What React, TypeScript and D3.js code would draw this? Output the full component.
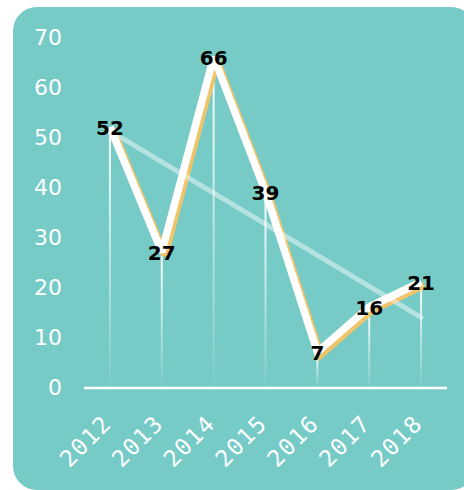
import { useEffect, useRef } from 'react';
import * as d3 from 'd3';

const years = ['2012', '2013', '2014', '2015', '2016', '2017', '2018'];
const values = [52, 27, 66, 39, 7, 16, 21];
const yTicks = [0, 10, 20, 30, 40, 50, 60, 70];

const W = 464;
const H = 490;

export default function App() {
  const svgRef = useRef<SVGSVGElement>(null);

  useEffect(() => {
    if (!svgRef.current) return;
    const svg = d3.select(svgRef.current);
    svg.selectAll('*').remove();

    const defs = svg.append('defs');
    const grad = defs.append('linearGradient')
      .attr('id', 'drop')
      .attr('x1', 0).attr('y1', 0).attr('x2', 0).attr('y2', 1);
    grad.append('stop').attr('offset', '0%').attr('stop-color', '#fff').attr('stop-opacity', 1);
    grad.append('stop').attr('offset', '100%').attr('stop-color', '#fff').attr('stop-opacity', 0.05);

    // card background
    svg.append('rect')
      .attr('x', 13).attr('y', 7)
      .attr('width', 462).attr('height', 483)
      .attr('rx', 24)
      .attr('fill', '#76cbc7');

    const x = d3.scaleBand<string>().domain(years).range([84, 447]);
    const y = d3.scaleLinear().domain([0, 70]).range([387, 37]);
    const cx = (d: string) => (x(d) ?? 0) + x.bandwidth() / 2;

    // y labels
    svg.append('g')
      .selectAll('text')
      .data(yTicks)
      .enter().append('text')
      .attr('x', 62)
      .attr('y', d => y(d))
      .attr('dy', '0.36em')
      .attr('text-anchor', 'end')
      .attr('fill', '#fff')
      .style('font-family', 'DejaVu Sans, sans-serif')
      .style('font-size', '22px')
      .text(d => d);

    // x axis line
    svg.append('line')
      .attr('x1', 84).attr('x2', 447)
      .attr('y1', y(0) + 1).attr('y2', y(0) + 1)
      .attr('stroke', '#fff')
      .attr('stroke-width', 2.5);

    // x labels
    svg.append('g')
      .selectAll('text')
      .data(years)
      .enter().append('text')
      .attr('transform', d => `translate(${cx(d) + 3},${y(0) + 38}) rotate(-45)`)
      .attr('text-anchor', 'end')
      .attr('fill', '#fff')
      .style('font-family', 'DejaVu Sans Mono, monospace')
      .style('font-size', '23px')
      .style('letter-spacing', '1.5px')
      .text(d => d);

    // drop lines
    svg.append('g')
      .selectAll('rect')
      .data(years)
      .enter().append('rect')
      .attr('x', d => cx(d) - 1)
      .attr('y', (d, i) => y(values[i]))
      .attr('width', 2)
      .attr('height', (d, i) => y(0) - y(values[i]))
      .attr('fill', 'url(#drop)');

    const pts: [number, number][] = years.map((d, i) => [cx(d), y(values[i])]);
    const line = d3.line();

    // gold shadow then white line
    svg.append('path')
      .attr('d', line(pts))
      .attr('transform', 'translate(3,3)')
      .attr('fill', 'none')
      .attr('stroke', '#efc46a')
      .attr('stroke-width', 7.5)
      .attr('stroke-linejoin', 'miter')
      .attr('stroke-miterlimit', 2);

    svg.append('path')
      .attr('d', line(pts))
      .attr('fill', 'none')
      .attr('stroke', '#fff')
      .attr('stroke-width', 7.5)
      .attr('stroke-linejoin', 'miter')
      .attr('stroke-miterlimit', 2);

    // linear trend
    const n = values.length;
    const mx = d3.mean(d3.range(n)) as number;
    const my = d3.mean(values) as number;
    const slope = d3.sum(values, (v, i) => (i - mx) * (v - my)) / d3.sum(d3.range(n), i => (i - mx) ** 2);
    const t0 = my - slope * mx;
    svg.append('line')
      .attr('x1', cx(years[0])).attr('y1', y(t0))
      .attr('x2', cx(years[n - 1])).attr('y2', y(t0 + slope * (n - 1)))
      .attr('stroke', '#fff')
      .attr('stroke-opacity', 0.45)
      .attr('stroke-width', 5)
      .attr('stroke-linecap', 'round');

    // value labels
    svg.append('g')
      .selectAll('text')
      .data(values)
      .enter().append('text')
      .attr('x', (d, i) => cx(years[i]))
      .attr('y', d => y(d) + 1)
      .attr('dy', '0.36em')
      .attr('text-anchor', 'middle')
      .attr('fill', '#000')
      .style('font-family', 'DejaVu Sans, sans-serif')
      .style('font-weight', 'bold')
      .style('font-size', '20px')
      .text(d => d);
  }, []);

  return (
    <div style={{ position: 'absolute', left: 0, top: 0, width: W, height: H, overflow: 'hidden' }}>
      <svg ref={svgRef} width={W} height={H} style={{ display: 'block' }} />
    </div>
  );
}
